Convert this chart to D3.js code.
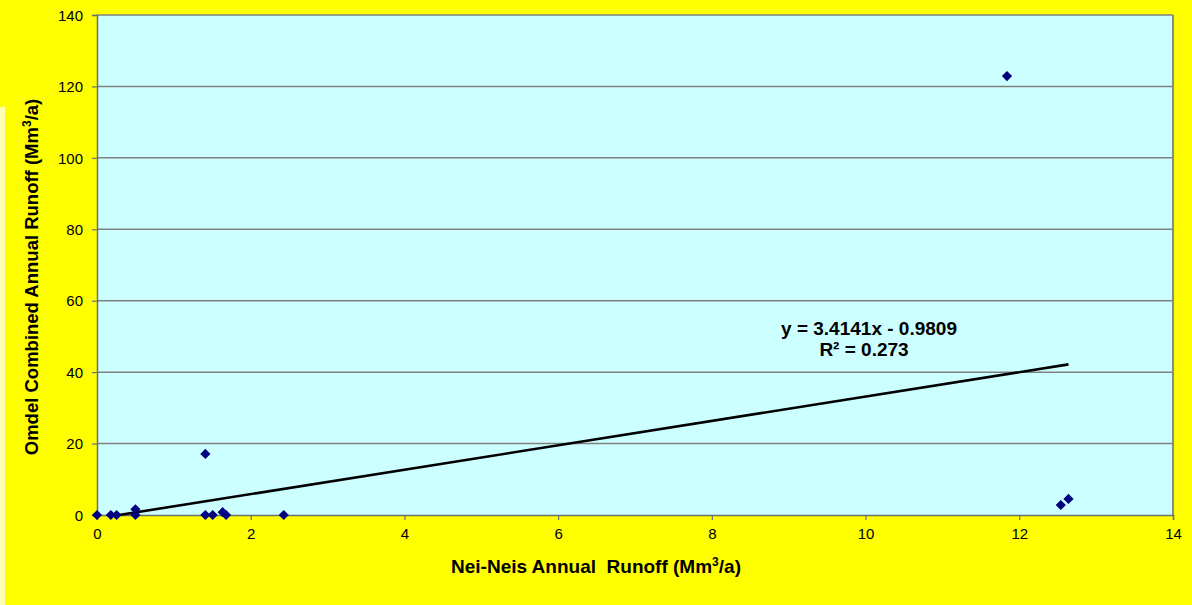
<!DOCTYPE html>
<html>
<head>
<meta charset="utf-8">
<script src="https://cdn.jsdelivr.net/npm/d3@7"></script>
<style>
  html, body { margin: 0; padding: 0; background: #ffff00; }
  svg { display: block; }
</style>
</head>
<body>
<svg id="chart" width="1192" height="605"></svg>
<script>
// Annual runoff pairs: Nei-Neis (x) vs Omdel combined (y), Mm³/a
const neiNeis = [0, 0.18, 0.255, 0.5, 0.5, 1.41, 1.41, 1.505, 1.635, 1.68, 2.43, 11.84, 12.54, 12.64];
const omdel   = [0, 0, 0, 0, 1.6, 17.1, 0, 0, 0.8, 0, 0, 122.9, 2.8, 4.5];

// Linear trend line as reported on the chart
const trendSlope = [3.4141];
const trendIntercept = [-0.9809];
const trendR2 = [0.273];

const xTicks = [0, 2, 4, 6, 8, 10, 12, 14];
const yTicks = [0, 20, 40, 60, 80, 100, 120, 140];

const svg = d3.select("#chart");
const W = 1192, H = 605;
const plot = { left: 97, right: 1173, top: 15, bottom: 515 };
const FONT = "'Liberation Sans', Arial, sans-serif";

svg.append("rect").attr("width", W).attr("height", H).attr("fill", "#ffff00");
svg.append("rect").attr("x", 0).attr("y", 107).attr("width", 5).attr("height", H - 107)
  .attr("fill", "#ffffb4");

const x = d3.scaleLinear().domain([0, 14]).range([plot.left, plot.right]);
const y = d3.scaleLinear().domain([0, 140]).range([plot.bottom, plot.top]);

// Plot area
svg.append("rect")
  .attr("x", plot.left).attr("y", plot.top)
  .attr("width", plot.right - plot.left).attr("height", plot.bottom - plot.top)
  .attr("fill", "#ccffff");

// Horizontal gridlines
svg.append("g").selectAll("line")
  .data(yTicks.filter(d => d > 0))
  .join("line")
  .attr("x1", plot.left).attr("x2", plot.right)
  .attr("y1", d => y(d)).attr("y2", d => y(d))
  .attr("stroke", "#808080").attr("stroke-width", 1.5);

// Right border
svg.append("line")
  .attr("x1", plot.right).attr("x2", plot.right)
  .attr("y1", plot.top).attr("y2", plot.bottom)
  .attr("stroke", "#8a8a8a").attr("stroke-width", 2);

// Axes
const xAxis = d3.axisBottom(x).tickValues(xTicks).tickSize(5).tickPadding(8).tickFormat(d3.format("d"));
const yAxis = d3.axisLeft(y).tickValues(yTicks).tickSize(5).tickPadding(9).tickFormat(d3.format("d"));

const gx = svg.append("g").attr("transform", `translate(0,${plot.bottom})`).call(xAxis);
const gy = svg.append("g").attr("transform", `translate(${plot.left},0)`).call(yAxis);

[gx, gy].forEach(g => {
  g.select(".domain").attr("stroke", "#6e6e6e").attr("stroke-width", 1.5);
  g.selectAll(".tick line").attr("stroke", "#6e6e6e").attr("stroke-width", 1.2);
  g.selectAll(".tick text")
    .attr("fill", "#000")
    .style("font-family", FONT)
    .style("font-size", "15px");
});
gy.selectAll(".tick text").attr("dy", "0.35em");

// Trend line, clipped to the visible y range
const slope = trendSlope[0], intercept = trendIntercept[0];
const xMin = Math.max(d3.min(neiNeis), -intercept / slope);
const xMax = d3.max(neiNeis);
const trendPts = [xMin, xMax].map(v => [v, slope * v + intercept]);
svg.append("path")
  .datum(trendPts)
  .attr("d", d3.line().x(d => x(d[0])).y(d => y(d[1])))
  .attr("stroke", "#000").attr("stroke-width", 2.6).attr("fill", "none");

// Data points (diamonds)
const diamond = d3.symbol().type(d3.symbolSquare).size(52);
svg.append("g").selectAll("path")
  .data(neiNeis.map((v, i) => [v, omdel[i]]))
  .join("path")
  .attr("d", diamond)
  .attr("transform", d => `translate(${x(d[0])},${y(d[1])}) rotate(45)`)
  .attr("fill", "#000080");

// Trend equation
const eq = svg.append("text")
  .attr("text-anchor", "middle")
  .style("font-family", FONT)
  .style("font-weight", "bold")
  .style("font-size", "19px")
  .attr("fill", "#000");
eq.append("tspan").attr("x", 869).attr("y", 335)
  .text(`y = ${slope}x - ${Math.abs(intercept)}`);
eq.append("tspan").attr("x", 864).attr("y", 356)
  .text(`R² = ${trendR2[0]}`);

// Axis titles
const xt = svg.append("text")
  .attr("x", 596).attr("y", 573)
  .attr("text-anchor", "middle")
  .style("font-family", FONT)
  .style("font-weight", "bold")
  .style("font-size", "19px")
  .style("white-space", "pre")
  .attr("fill", "#000");
xt.append("tspan").text("Nei-Neis Annual  Runoff (Mm");
xt.append("tspan").attr("dy", -7).style("font-size", "12px").text("3");
xt.append("tspan").attr("dy", 7).text("/a)");

const yt = svg.append("text")
  .attr("transform", "translate(38,277) rotate(-90)")
  .attr("text-anchor", "middle")
  .style("font-family", FONT)
  .style("font-weight", "bold")
  .style("font-size", "18.5px")
  .attr("fill", "#000");
yt.append("tspan").text("Omdel Combined Annual Runoff (Mm");
yt.append("tspan").attr("dy", -7).style("font-size", "12px").text("3");
yt.append("tspan").attr("dy", 7).text("/a)");
</script>
</body>
</html>
